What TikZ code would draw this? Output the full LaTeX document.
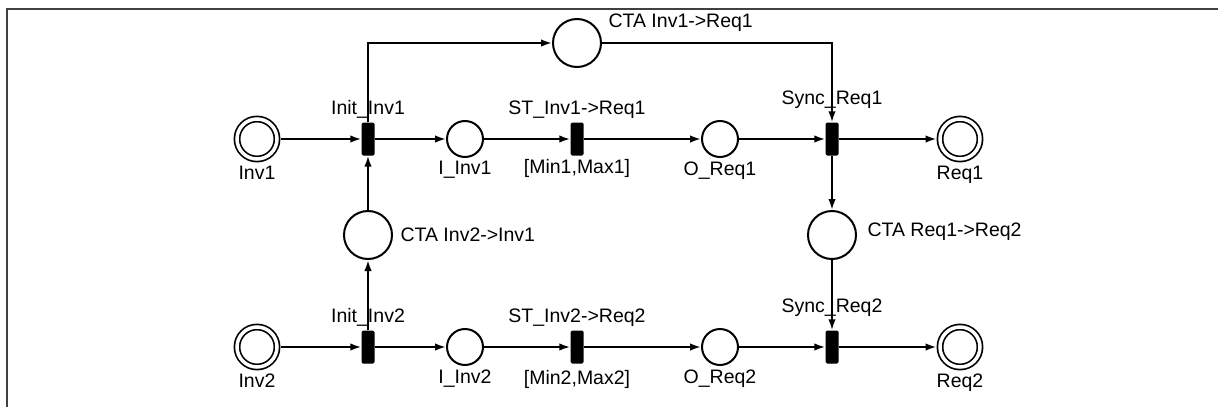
\documentclass[tikz,border=0pt]{standalone}
\usepackage{fontspec}
\setmainfont{Liberation Sans}
\usepackage{tikz}
\usetikzlibrary{arrows.meta}
\tikzset{
  place/.style={circle, draw, line width=2pt, inner sep=0pt, minimum size=36pt, label distance=4pt},
  bigplace/.style={place, minimum size=48pt},
  endplace/.style={place, double, double distance=3.5pt, line width=1.7pt, minimum size=40pt, outer sep=3.5pt, label distance=2pt},
  trans/.style={rectangle, fill=black, rounded corners=1.5pt, minimum width=13pt, minimum height=33pt, inner sep=0pt, label distance=1pt},
  arc/.style={line width=2pt, -{Latex[length=11pt,width=7.5pt]}},
}
\newcommand{\arcdraw}[2]{\draw[arc] (#1) -- (#2)}

\begin{document}
\begin{tikzpicture}[x=1pt, y=-1pt, font=\fontsize{19.5}{22}\selectfont]
                    \useasboundingbox (0,0) rectangle (1219,407);
                    \draw[line width=1.5pt, black!75] (1218,9) -- (7,9) -- (7,407);

                    % first row
                    \node[endplace, label=below:Inv1] (inv1) at (257,139) {};
                    \node[trans, label={above:Init\_Inv1}] (init1) at (368,139) {};
                    \node[place, label={below:I\_Inv1}] (i1) at (465,139) {};
                    \node[trans, label={above:ST\_Inv1->Req1}, label={below:{[Min1,Max1]}}] (st1) at (577,139) {};
                    \node[place, label={below:O\_Req1}] (o1) at (720,139) {};
                    \node[trans, label={[label distance=10pt]above:Sync\_Req1}] (sync1) at (832,139) {};
                    \node[endplace, label=below:Req1] (req1) at (960,139) {};

                    % second row
                    \node[endplace, label=below:Inv2] (inv2) at (257,347) {};
                    \node[trans, label={above:Init\_Inv2}] (init2) at (368,347) {};
                    \node[place, label={below:I\_Inv2}] (i2) at (465,347) {};
                    \node[trans, label={above:ST\_Inv2->Req2}, label={[label distance=3pt]below:{[Min2,Max2]}}] (st2) at (577,347) {};
                    \node[place, label={below:O\_Req2}] (o2) at (720,347) {};
                    \node[trans, label={[label distance=10pt]above:Sync\_Req2}] (sync2) at (832,347) {};
                    \node[endplace, label=below:Req2] (req2) at (960,347) {};

                    % coordination places
                    \node[bigplace, label={[anchor=west, xshift=3pt, yshift=20pt]east:CTA Inv1->Req1}] (ctaA) at (577,43) {};
                    \node[bigplace, label={[label distance=4pt]right:CTA Inv2->Inv1}] (ctaB) at (368,235) {};
                    \node[bigplace, label={[label distance=7pt, yshift=3pt]right:CTA Req1->Req2}] (ctaC) at (832,235) {};

                    \arcdraw{inv1}{init1};
                    \arcdraw{init1}{i1};
                    \arcdraw{i1}{st1};
                    \arcdraw{st1}{o1};
                    \arcdraw{o1}{sync1};
                    \arcdraw{sync1}{req1};

                    \arcdraw{inv2}{init2};
                    \arcdraw{init2}{i2};
                    \arcdraw{i2}{st2};
                    \arcdraw{st2}{o2};
                    \arcdraw{o2}{sync2};
                    \arcdraw{sync2}{req2};

                    \arcdraw{init2}{ctaB};
                    \arcdraw{ctaB}{init1};
                    \arcdraw{sync1}{ctaC};
                    \arcdraw{ctaC}{sync2};

                    \draw[arc] (init1) |- (ctaA);
                    \draw[arc] (ctaA) -| (sync1);
                \end{tikzpicture}
\end{document}
